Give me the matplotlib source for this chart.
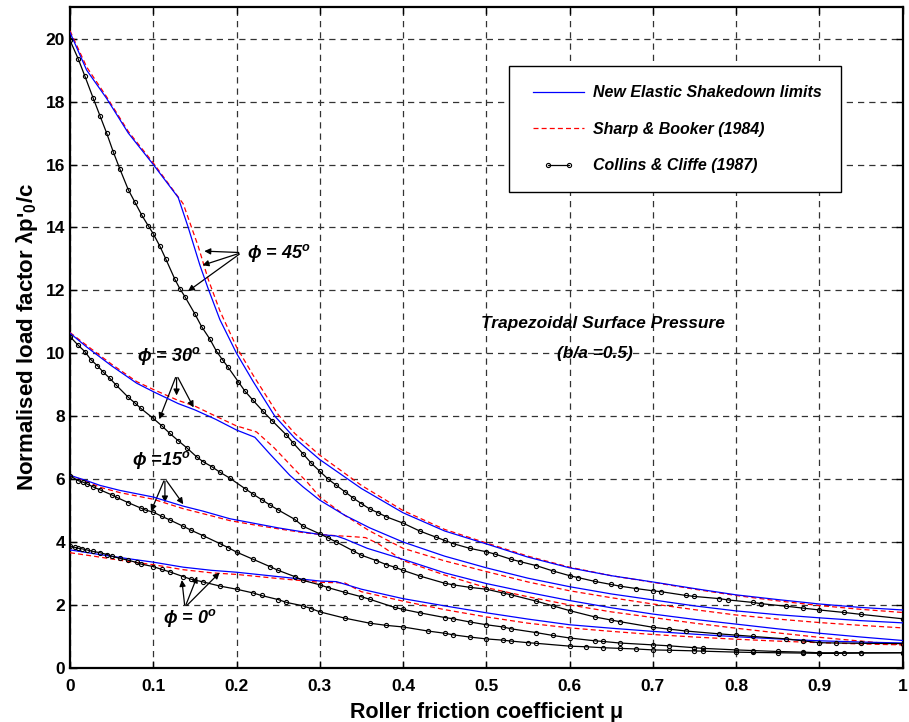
import numpy as np
import matplotlib
matplotlib.use('Agg')
import matplotlib.pyplot as plt
from matplotlib.legend_handler import HandlerLine2D

plt.rcParams['font.family'] = ['Liberation Sans', 'DejaVu Sans']
plt.rcParams['mathtext.default'] = 'regular'

# phi = 45 deg
x45_new = [0, 0.02, 0.044, 0.07, 0.1, 0.13, 0.142, 0.156, 0.166, 0.18, 0.2, 0.22, 0.246, 0.27, 0.3,
           0.35, 0.4, 0.45, 0.5, 0.55, 0.6, 0.65, 0.7, 0.75, 0.8, 0.85, 0.9, 0.95, 1.0]
y45_new = [20.2, 19.0, 18.1, 17.0, 16.0, 14.95, 14.0, 12.8, 12.05, 11.07, 10.0, 9.1, 8.0, 7.3, 6.62,
           5.7, 4.93, 4.35, 3.94, 3.52, 3.18, 2.93, 2.73, 2.52, 2.32, 2.17, 2.03, 1.92, 1.84]
x45_sb = [0, 0.02, 0.044, 0.07, 0.1, 0.136, 0.154, 0.166, 0.18, 0.2, 0.22, 0.25, 0.27, 0.3,
          0.35, 0.4, 0.45, 0.5, 0.55, 0.6, 0.65, 0.7, 0.75, 0.8, 0.85, 0.9, 0.95, 1.0]
y45_sb = [20.25, 19.1, 18.15, 17.05, 16.05, 14.75, 13.4, 12.35, 11.35, 10.2, 9.3, 8.05, 7.45, 6.76,
          5.8, 5.0, 4.4, 3.97, 3.55, 3.2, 2.93, 2.72, 2.5, 2.3, 2.13, 1.98, 1.86, 1.76]
x45_cc = [0, 0.01, 0.018, 0.028, 0.036, 0.044, 0.052, 0.06, 0.07, 0.078, 0.086, 0.094, 0.1, 0.108,
          0.115, 0.126, 0.132, 0.138, 0.15, 0.158, 0.168, 0.176, 0.183, 0.19, 0.202, 0.21, 0.22,
          0.232, 0.243, 0.26, 0.268, 0.28, 0.29, 0.3, 0.31, 0.32, 0.33, 0.34, 0.35, 0.36, 0.37,
          0.38, 0.4, 0.42, 0.44, 0.45, 0.46, 0.48, 0.5, 0.51, 0.53, 0.54, 0.56, 0.58, 0.6, 0.61,
          0.63, 0.65, 0.66, 0.68, 0.7, 0.71, 0.74, 0.75, 0.78, 0.79, 0.82, 0.83, 0.86, 0.88, 0.9,
          0.93, 0.95, 1.0]
y45_cc = [19.95, 19.35, 18.8, 18.1, 17.55, 17.0, 16.4, 15.85, 15.2, 14.8, 14.4, 14.05, 13.8, 13.4,
          13.0, 12.35, 12.05, 11.8, 11.25, 10.85, 10.45, 10.06, 9.8, 9.55, 9.1, 8.8, 8.5,
          8.15, 7.85, 7.4, 7.15, 6.8, 6.5, 6.25, 6.0, 5.8, 5.6, 5.4, 5.22, 5.05, 4.93,
          4.8, 4.6, 4.35, 4.15, 4.05, 3.95, 3.8, 3.69, 3.62, 3.45, 3.38, 3.25, 3.08, 2.93, 2.87,
          2.75, 2.65, 2.6, 2.52, 2.45, 2.42, 2.3, 2.27, 2.2, 2.16, 2.08, 2.04, 1.96, 1.9, 1.84,
          1.76, 1.7, 1.56]

# phi = 30 deg
x30_new = [0, 0.02, 0.05, 0.08, 0.1, 0.13, 0.15, 0.175, 0.2, 0.222, 0.24, 0.264, 0.28, 0.3, 0.33,
           0.36, 0.4, 0.45, 0.5, 0.55, 0.6, 0.65, 0.7, 0.75, 0.8, 0.85, 0.9, 0.95, 1.0]
y30_new = [10.64, 10.2, 9.6, 9.05, 8.78, 8.4, 8.2, 7.9, 7.56, 7.33, 6.8, 6.12, 5.75, 5.33, 4.85,
           4.45, 4.0, 3.55, 3.18, 2.85, 2.58, 2.35, 2.16, 1.97, 1.81, 1.69, 1.59, 1.5, 1.43]
x30_sb = [0, 0.02, 0.05, 0.08, 0.1, 0.13, 0.15, 0.175, 0.2, 0.224, 0.245, 0.27, 0.285, 0.3, 0.33,
          0.36, 0.4, 0.45, 0.5, 0.55, 0.6, 0.65, 0.7, 0.75, 0.8, 0.85, 0.9, 0.95, 1.0]
y30_sb = [10.66, 10.25, 9.65, 9.1, 8.85, 8.5, 8.32, 8.0, 7.69, 7.5, 7.0, 6.3, 5.9, 5.43, 4.85,
          4.35, 3.8, 3.4, 3.06, 2.73, 2.45, 2.23, 2.03, 1.85, 1.68, 1.55, 1.44, 1.35, 1.27]
x30_cc = [0, 0.01, 0.018, 0.025, 0.033, 0.04, 0.048, 0.055, 0.07, 0.078, 0.085, 0.1, 0.11, 0.12,
          0.13, 0.14, 0.152, 0.16, 0.17, 0.18, 0.192, 0.21, 0.22, 0.23, 0.24, 0.25, 0.27, 0.28,
          0.3, 0.31, 0.32, 0.34, 0.35, 0.368, 0.38, 0.39, 0.4, 0.42, 0.45, 0.46, 0.48, 0.5, 0.52,
          0.53, 0.56, 0.58, 0.6, 0.63, 0.65, 0.66, 0.7, 0.72, 0.74, 0.78, 0.8, 0.82, 0.86, 0.88,
          0.9, 0.92, 0.95, 1.0]
y30_cc = [10.53, 10.25, 10.05, 9.8, 9.6, 9.4, 9.2, 9.0, 8.6, 8.42, 8.25, 7.93, 7.7, 7.45,
          7.22, 7.0, 6.71, 6.55, 6.4, 6.22, 6.03, 5.7, 5.52, 5.35, 5.18, 5.02, 4.72, 4.5,
          4.26, 4.13, 4.0, 3.72, 3.58, 3.41, 3.28, 3.2, 3.1, 2.92, 2.69, 2.64, 2.56, 2.5, 2.38,
          2.32, 2.12, 1.97, 1.82, 1.62, 1.52, 1.47, 1.29, 1.23, 1.17, 1.08, 1.04, 1.0, 0.92, 0.86,
          0.8, 0.79, 0.78, 0.77]

# phi = 15 deg
x15_new = [0, 0.02, 0.036, 0.06, 0.1, 0.136, 0.16, 0.192, 0.22, 0.25, 0.28, 0.3, 0.32, 0.33,
           0.357, 0.4, 0.45, 0.5, 0.55, 0.6, 0.65, 0.7, 0.75, 0.8, 0.85, 0.9, 0.95, 1.0]
y15_new = [6.12, 5.95, 5.8, 5.64, 5.43, 5.14, 4.98, 4.74, 4.6, 4.45, 4.32, 4.24, 4.19, 4.1,
           3.8, 3.45, 3.02, 2.68, 2.4, 2.14, 1.91, 1.71, 1.54, 1.39, 1.24, 1.1, 0.98, 0.87]
x15_sb = [0, 0.02, 0.036, 0.06, 0.1, 0.136, 0.16, 0.192, 0.22, 0.25, 0.28, 0.3, 0.32, 0.34, 0.355,
          0.37, 0.4, 0.45, 0.5, 0.55, 0.6, 0.65, 0.7, 0.75, 0.8, 0.85, 0.9, 0.95, 1.0]
y15_sb = [6.12, 5.92, 5.74, 5.57, 5.36, 5.06, 4.9, 4.68, 4.55, 4.42, 4.3, 4.24, 4.2, 4.17, 4.14,
          3.95, 3.41, 2.95, 2.55, 2.26, 2.0, 1.78, 1.6, 1.42, 1.26, 1.11, 0.97, 0.85, 0.73]
x15_cc = [0, 0.01, 0.016, 0.02, 0.028, 0.036, 0.05, 0.056, 0.07, 0.085, 0.09, 0.1, 0.11, 0.12,
          0.136, 0.145, 0.16, 0.18, 0.19, 0.2, 0.22, 0.24, 0.25, 0.27, 0.28, 0.3, 0.31, 0.33,
          0.35, 0.36, 0.39, 0.4, 0.42, 0.45, 0.46, 0.48, 0.5, 0.52, 0.53, 0.56, 0.58, 0.6, 0.63,
          0.64, 0.66, 0.7, 0.72, 0.75, 0.76, 0.8, 0.82, 0.85, 0.88, 0.9, 0.93, 0.95, 1.0]
y15_cc = [6.1, 5.95, 5.9, 5.85, 5.75, 5.66, 5.5, 5.42, 5.25, 5.08, 5.02, 4.95, 4.82, 4.7,
          4.5, 4.38, 4.2, 3.95, 3.82, 3.68, 3.45, 3.22, 3.1, 2.9, 2.78, 2.64, 2.55, 2.4,
          2.26, 2.18, 1.92, 1.86, 1.75, 1.6, 1.56, 1.46, 1.37, 1.3, 1.24, 1.12, 1.03, 0.95, 0.86,
          0.84, 0.79, 0.73, 0.7, 0.64, 0.62, 0.57, 0.55, 0.52, 0.5, 0.48, 0.48, 0.48, 0.48]

# phi = 0 deg
x0_new = [0, 0.036, 0.07, 0.1, 0.136, 0.17, 0.2, 0.25, 0.3, 0.32, 0.35, 0.4, 0.45, 0.5, 0.55,
          0.6, 0.65, 0.7, 0.75, 0.8, 0.85, 0.9, 0.95, 1.0]
y0_new = [3.75, 3.6, 3.47, 3.36, 3.2, 3.1, 3.04, 2.9, 2.76, 2.74, 2.5, 2.2, 1.97, 1.75, 1.55,
          1.37, 1.26, 1.16, 1.07, 0.99, 0.92, 0.86, 0.82, 0.79]
x0_sb = [0, 0.036, 0.07, 0.1, 0.136, 0.17, 0.2, 0.25, 0.3, 0.33, 0.35, 0.4, 0.45, 0.5, 0.55,
         0.6, 0.65, 0.7, 0.75, 0.8, 0.85, 0.9, 0.95, 1.0]
y0_sb = [3.66, 3.52, 3.38, 3.28, 3.12, 3.02, 2.97, 2.84, 2.72, 2.7, 2.42, 2.12, 1.85, 1.62, 1.42,
         1.27, 1.16, 1.06, 0.98, 0.91, 0.85, 0.8, 0.76, 0.73]
x0_cc = [0, 0.006, 0.01, 0.015, 0.02, 0.028, 0.036, 0.045, 0.05, 0.06, 0.07, 0.08, 0.085, 0.1,
         0.11, 0.12, 0.136, 0.145, 0.16, 0.18, 0.2, 0.22, 0.23, 0.25, 0.26, 0.28, 0.29, 0.3,
         0.33, 0.36, 0.38, 0.4, 0.43, 0.45, 0.46, 0.48, 0.5, 0.52, 0.53, 0.55, 0.56, 0.6, 0.62,
         0.64, 0.66, 0.68, 0.7, 0.72, 0.75, 0.76, 0.8, 0.82, 0.85, 0.88, 0.9, 0.92, 0.95, 1.0]
y0_cc = [3.86, 3.83, 3.8, 3.78, 3.75, 3.7, 3.66, 3.6, 3.55, 3.48, 3.42, 3.35, 3.3, 3.22,
         3.13, 3.05, 2.9, 2.82, 2.73, 2.6, 2.5, 2.38, 2.3, 2.17, 2.08, 1.97, 1.88, 1.78,
         1.58, 1.42, 1.35, 1.3, 1.17, 1.1, 1.05, 0.98, 0.92, 0.88, 0.85, 0.8, 0.78, 0.69, 0.67,
         0.64, 0.62, 0.6, 0.57, 0.56, 0.54, 0.53, 0.5, 0.49, 0.48, 0.47, 0.46, 0.46, 0.47, 0.48]

new_sets = [(x45_new, y45_new), (x30_new, y30_new), (x15_new, y15_new), (x0_new, y0_new)]
sb_sets = [(x45_sb, y45_sb), (x30_sb, y30_sb), (x15_sb, y15_sb), (x0_sb, y0_sb)]
cc_sets = [(x45_cc, y45_cc), (x30_cc, y30_cc), (x15_cc, y15_cc), (x0_cc, y0_cc)]

fig = plt.figure(figsize=(9.09, 7.22), dpi=100)
ax = fig.add_axes([0.077, 0.075, 0.916, 0.915])

for i, (xs, ys) in enumerate(sb_sets):
    ax.plot(xs, ys, color='red', linestyle=(0, (4, 2.5)), linewidth=0.9,
            label='Sharp & Booker (1984)' if i == 0 else None, zorder=3)
for i, (xs, ys) in enumerate(new_sets):
    ax.plot(xs, ys, color='blue', linewidth=0.9,
            label='New Elastic Shakedown limits' if i == 0 else None, zorder=4)
cc_lines = []
for i, (xs, ys) in enumerate(cc_sets):
    ln, = ax.plot(xs, ys, color='black', linewidth=0.9, marker='o', markersize=3,
                  markerfacecolor='none', markeredgewidth=0.8,
                  label='Collins & Cliffe (1987)' if i == 0 else None, zorder=5)
    cc_lines.append(ln)

ax.set_xlim(0, 1)
ax.set_ylim(0, 21)
ax.set_xticks(np.arange(0, 1.01, 0.1))
ax.set_xticklabels(['0', '0.1', '0.2', '0.3', '0.4', '0.5', '0.6', '0.7', '0.8', '0.9', '1'])
ax.set_yticks(np.arange(0, 21, 2))
ax.tick_params(direction='in', length=5, width=1, top=True, right=True, labelsize=12.5)
ax.tick_params(axis='x', pad=8)
for lab in ax.get_xticklabels() + ax.get_yticklabels():
    lab.set_fontweight('bold')
for sp in ax.spines.values():
    sp.set_linewidth(1.6)
ax.grid(True, color='0.2', linestyle=(0, (5, 4)), linewidth=0.9)

ax.set_xlabel('Roller friction coefficient \u03bc', fontsize=15.5, fontweight='bold', labelpad=6)
ax.set_ylabel("Normalised load factor \u03bbp$'_0$/c", fontsize=16, fontweight='bold', labelpad=4)

h, l = ax.get_legend_handles_labels()
order = [l.index('New Elastic Shakedown limits'), l.index('Sharp & Booker (1984)'),
         l.index('Collins & Cliffe (1987)')]
leg = ax.legend([h[k] for k in order], [l[k] for k in order], loc='upper left',
                bbox_to_anchor=(0.527, 0.911), borderaxespad=0, fancybox=False,
                edgecolor='black', framealpha=1, handlelength=3.8, handletextpad=0.3,
                numpoints=2, labelspacing=1.35, borderpad=1.2,
                handler_map={cc_lines[0]: HandlerLine2D(marker_pad=1.25, numpoints=2)},
                prop={'weight': 'bold', 'style': 'italic', 'size': 11.5})
leg.get_frame().set_linewidth(1.0)

ann = dict(fontsize=13, fontweight='bold', style='italic')
arrow = dict(arrowstyle='-|>', color='black', lw=0.9, mutation_scale=9)

ax.text(0.212, 13.2, "\u03d5 = 45$^o$", va='center', ha='left', **ann)
for tx, ty in [(0.158, 13.25), (0.156, 12.77), (0.139, 11.92)]:
    ax.annotate('', xy=(tx, ty), xytext=(0.206, 13.2), arrowprops=arrow)

ax.text(0.08, 9.9, "\u03d5 = 30$^o$", va='center', ha='left', **ann)
for tx, ty in [(0.106, 7.82), (0.128, 8.57), (0.15, 8.2)]:
    ax.annotate('', xy=(tx, ty), xytext=(0.128, 9.31), arrowprops=arrow)

ax.text(0.074, 6.6, "\u03d5 =15$^o$", va='center', ha='left', **ann)
for tx, ty in [(0.096, 4.9), (0.114, 5.17), (0.138, 5.13)]:
    ax.annotate('', xy=(tx, ty), xytext=(0.114, 6.02), arrowprops=arrow)

ax.text(0.112, 1.6, "\u03d5 = 0$^o$", va='center', ha='left', **ann)
for tx, ty in [(0.134, 2.88), (0.154, 2.99), (0.182, 3.09)]:
    ax.annotate('', xy=(tx, ty), xytext=(0.138, 1.92), arrowprops=arrow)

ax.text(0.64, 10.95, 'Trapezoidal Surface Pressure', ha='center', va='center',
        fontsize=12.5, fontweight='bold', style='italic')
ax.text(0.63, 10.0, '(b/a =0.5)', ha='center', va='center',
        fontsize=12.5, fontweight='bold', style='italic')

fig.savefig('out.png', dpi=100)
